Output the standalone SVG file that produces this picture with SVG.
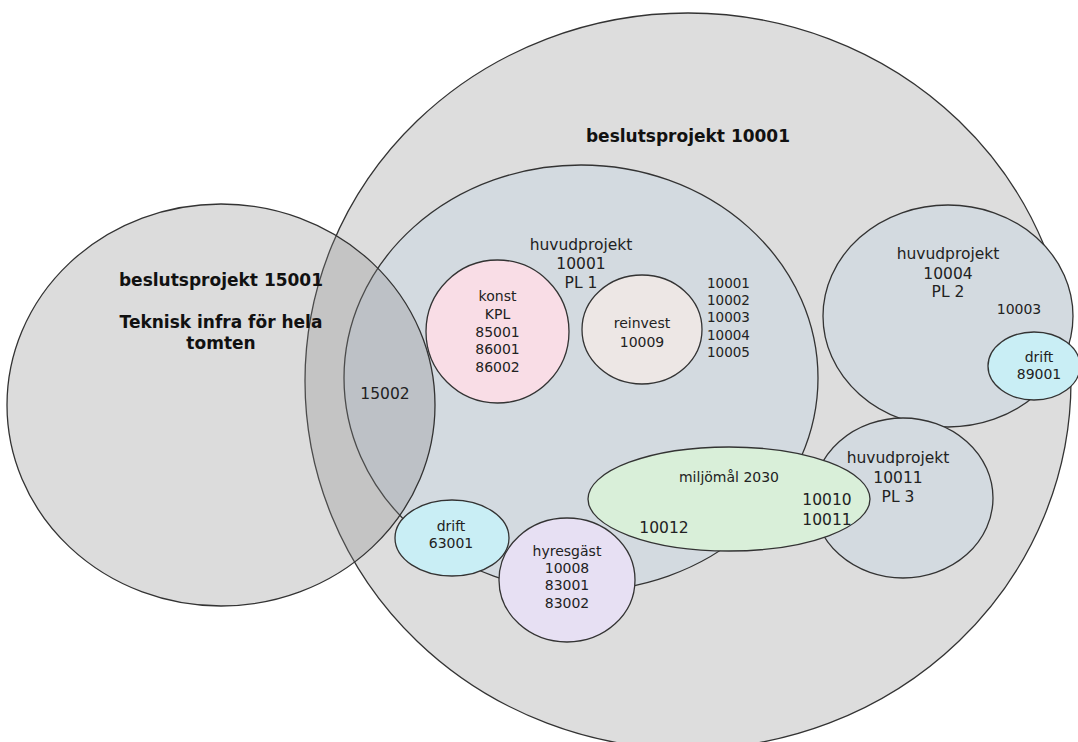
<svg xmlns="http://www.w3.org/2000/svg" width="1078" height="742" viewBox="0 0 1078 742">
<style>
.s{stroke:#333;stroke-width:1.3}
text{font-family:"DejaVu Sans","Liberation Sans",sans-serif;fill:#222;text-anchor:middle}
.b{font-weight:bold;font-size:17px;fill:#111}
.m{font-size:15.5px}
.n{font-size:14px}
.l{font-size:13.5px;text-anchor:start}
</style>
<rect width="1078" height="742" fill="#ffffff"/>
<g id="beslut10001">
<ellipse class="s" cx="688" cy="381" rx="383" ry="368" fill="#dddddd"/>
<text class="b" x="688" y="142">beslutsprojekt 10001</text>
</g>
<g id="hp10001">
<ellipse class="s" cx="581" cy="378" rx="237" ry="213" fill="#d3dae0"/>
<text class="m" x="581" y="249.5">huvudprojekt</text>
<text class="m" x="581" y="268.5">10001</text>
<text class="m" x="581" y="287.5">PL 1</text>
<text class="l" x="707" y="287.5">10001</text>
<text class="l" x="707" y="304.5">10002</text>
<text class="l" x="707" y="322">10003</text>
<text class="l" x="707" y="339.5">10004</text>
<text class="l" x="707" y="357">10005</text>
</g>
<g id="hp10004">
<ellipse class="s" cx="948" cy="316" rx="125" ry="111" fill="#d3dae0"/>
<text class="m" x="948" y="258.5">huvudprojekt</text>
<text class="m" x="948" y="278.5">10004</text>
<text class="m" x="948" y="296.5">PL 2</text>
<text class="n" x="1019" y="314">10003</text>
</g>
<g id="hp10011">
<ellipse class="s" cx="903" cy="498" rx="90" ry="80" fill="#d3dae0"/>
<text class="m" x="898" y="462.5">huvudprojekt</text>
<text class="m" x="898" y="482.5">10011</text>
<text class="m" x="898" y="501.5">PL 3</text>
</g>
<g id="miljomal">
<ellipse class="s" cx="729" cy="499" rx="141" ry="52" fill="#d9efd9"/>
<text class="n" x="729" y="482">miljömål 2030</text>
<text class="m" x="827" y="504.5">10010</text>
<text class="m" x="827" y="524.5">10011</text>
<text class="m" x="664" y="532.5">10012</text>
</g>
<g id="beslut15001">
<ellipse class="s" cx="221" cy="405" rx="214" ry="201" fill="#888888" fill-opacity="0.29"/>
<text class="b" x="221" y="286">beslutsprojekt 15001</text>
<text class="b" x="221" y="328">Teknisk infra för hela</text>
<text class="b" x="221" y="349">tomten</text>
<text class="m" x="385" y="398.5">15002</text>
</g>
<g id="konst">
<ellipse class="s" cx="497.5" cy="331.5" rx="71.5" ry="71.5" fill="#f9dde6"/>
<text class="n" x="497.5" y="301">konst</text>
<text class="n" x="497.5" y="319">KPL</text>
<text class="n" x="497.5" y="336.5">85001</text>
<text class="n" x="497.5" y="354">86001</text>
<text class="n" x="497.5" y="371.5">86002</text>
</g>
<g id="reinvest">
<ellipse class="s" cx="642" cy="329.5" rx="60" ry="54.5" fill="#ede7e5"/>
<text class="n" x="642" y="328">reinvest</text>
<text class="n" x="642" y="346.5">10009</text>
</g>
<g id="drift63001">
<ellipse class="s" cx="452" cy="538" rx="57" ry="38" fill="#c9eef5"/>
<text class="n" x="451" y="530.5">drift</text>
<text class="n" x="451" y="548">63001</text>
</g>
<g id="hyresgast">
<ellipse class="s" cx="567" cy="580" rx="68" ry="62" fill="#e7e0f3"/>
<text class="n" x="567" y="555.5">hyresgäst</text>
<text class="n" x="567" y="572.5">10008</text>
<text class="n" x="567" y="590">83001</text>
<text class="n" x="567" y="607.5">83002</text>
</g>
<g id="drift89001">
<ellipse class="s" cx="1034" cy="366" rx="46" ry="34" fill="#c9eef5"/>
<text class="n" x="1039" y="362">drift</text>
<text class="n" x="1039" y="379">89001</text>
</g>
<g id="connectors"></g>
</svg>
